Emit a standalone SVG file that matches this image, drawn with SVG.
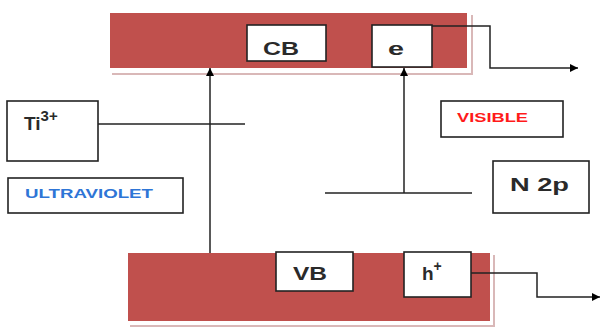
<svg xmlns="http://www.w3.org/2000/svg" width="600" height="329" viewBox="0 0 600 329">
<defs>
<marker id="arr" viewBox="0 0 10 10" refX="10" refY="5" markerWidth="8" markerHeight="8" markerUnits="userSpaceOnUse" orient="auto">
<path d="M0,0 L10,5 L0,10 z" fill="#000"/>
</marker>
<style>
.band{fill:#C0504D}
.shadow{fill:none;stroke:#D9B8B8;stroke-width:2}
.box{fill:#fff;stroke:#222;stroke-width:1.6}
.ln{fill:none;stroke:#222;stroke-width:1.5}
.t{font-family:"Liberation Sans",sans-serif;font-weight:bold;font-size:19px;fill:#2a2a2a}
.lab{font-family:"Liberation Sans",sans-serif;font-weight:bold;font-size:13px}
</style>
</defs>
<rect width="600" height="329" fill="#fff"/>
<g id="cb-band">
<path class="shadow" d="M112,74 H472 V15"/>
<rect class="band" x="110" y="13" width="357" height="55"/>
</g>
<g id="cb">
<rect class="box" x="247" y="25" width="79" height="36"/>
<text class="t" x="263" y="55" textLength="36" lengthAdjust="spacingAndGlyphs">CB</text>
</g>
<g id="e">
<rect class="box" x="372" y="25" width="60" height="42"/>
<text class="t" x="388" y="55" textLength="16" lengthAdjust="spacingAndGlyphs">e</text>
</g>
<g id="vb-band">
<path class="shadow" d="M130,326 H494 V255"/>
<rect class="band" x="128" y="253" width="362" height="68"/>
</g>
<g id="vb">
<rect class="box" x="276" y="252" width="77" height="39"/>
<text class="t" x="293" y="280" textLength="34" lengthAdjust="spacingAndGlyphs">VB</text>
</g>
<g id="h">
<rect class="box" x="404" y="252" width="67" height="45"/>
<text class="t" x="422" y="280" font-size="22">h<tspan dy="-9" font-size="14">+</tspan></text>
</g>
<g id="ti">
<rect class="box" x="7" y="101" width="91" height="60"/>
<text class="t" x="24" y="130" font-size="23">Ti<tspan dy="-9" font-size="15">3+</tspan></text>
</g>
<g id="uv">
<rect class="box" x="8" y="178" width="175" height="35"/>
<text class="lab" x="25" y="198" fill="#2E75D6" textLength="128" lengthAdjust="spacingAndGlyphs">ULTRAVIOLET</text>
</g>
<g id="visible">
<rect class="box" x="441" y="101" width="122" height="36"/>
<text class="lab" x="457" y="122" fill="#FF1A1A" textLength="71" lengthAdjust="spacingAndGlyphs">VISIBLE</text>
</g>
<g id="n2p">
<rect class="box" x="493" y="161" width="96" height="52"/>
<text class="t" x="510" y="191" textLength="59" lengthAdjust="spacingAndGlyphs">N 2p</text>
</g>
<g id="connectors">
<line class="ln" x1="98" y1="124" x2="245" y2="124"/>
<line class="ln" x1="325" y1="193" x2="472" y2="193"/>
<line class="ln" x1="210" y1="253" x2="210" y2="68" marker-end="url(#arr)"/>
<line class="ln" x1="404" y1="193" x2="404" y2="68" marker-end="url(#arr)"/>
<path class="ln" d="M432,26 H490 V68 H578" marker-end="url(#arr)"/>
<path class="ln" d="M471,273 H537 V297 H600" marker-end="url(#arr)"/>
</g>
</svg>
